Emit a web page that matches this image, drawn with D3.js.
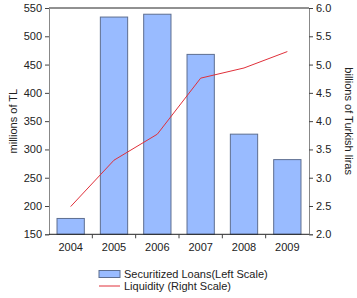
<!DOCTYPE html>
<html><head><meta charset="utf-8">
<script src="https://cdn.jsdelivr.net/npm/d3@7"></script>
<style>body{margin:0;background:#fff;}svg{display:block;font-family:"Liberation Sans",Arial,sans-serif;}</style>
</head><body><svg id="c" width="357" height="298"></svg>
<script>
const years = ["2004","2005","2006","2007","2008","2009"];
const securitizedLoans = [178, 534, 539, 468, 327, 282];
const liquidity = [2.49, 3.31, 3.77, 4.76, 4.94, 5.23];
const leftTicks = [150,200,250,300,350,400,450,500,550];
const rightTicks = [2.0,2.5,3.0,3.5,4.0,4.5,5.0,5.5,6.0];

const svg = d3.select("#c");
const L = 49, R = 309, T = 8, B = 234.3;
const x = d3.scaleBand().domain(years).range([L, R]).paddingInner(0.37).paddingOuter(0.185);
const xb = d3.scaleBand().domain(years).range([L, R]);
const yL = d3.scaleLinear().domain([150, 550]).range([B, T]);
const yR = d3.scaleLinear().domain([2, 6]).range([B, T]);

// bars
svg.append("g").selectAll("rect").data(years).join("rect")
  .attr("x", d => x(d)).attr("width", x.bandwidth())
  .attr("y", (d,i) => yL(securitizedLoans[i])).attr("height", (d,i) => B - yL(securitizedLoans[i]))
  .attr("fill", "#99bbff").attr("stroke", "#5d6e90").attr("stroke-width", 1);

// top border
svg.append("line").attr("x1", L).attr("x2", R).attr("y1", T).attr("y2", T).attr("stroke", "#222");

// left axis
const ga = svg.append("g").attr("transform", `translate(${L},0)`)
  .call(d3.axisLeft(yL).tickValues(leftTicks).tickSize(4).tickPadding(3).tickFormat(d3.format("d")));
ga.select(".domain").attr("stroke", "#888");
ga.selectAll(".tick line").attr("stroke", "#444");
ga.selectAll("text").attr("font-size", 11).attr("fill", "#222").style("font-family", "Liberation Sans, Arial, sans-serif");

// right axis
const gr = svg.append("g").attr("transform", `translate(${R},0)`)
  .call(d3.axisRight(yR).tickValues(rightTicks).tickSize(4).tickPadding(3).tickFormat(d3.format(".1f")));
gr.select(".domain").attr("stroke", "#888");
gr.selectAll(".tick line").attr("stroke", "#444");
gr.selectAll("text").attr("font-size", 11).attr("fill", "#222").style("font-family", "Liberation Sans, Arial, sans-serif");

// bottom axis
const gb = svg.append("g").attr("transform", `translate(0,${B})`)
  .call(d3.axisBottom(x).tickSize(0).tickPadding(9));
gb.select(".domain").remove();
gb.selectAll("text").attr("font-size", 11).attr("fill", "#222").style("font-family", "Liberation Sans, Arial, sans-serif");
svg.append("line").attr("x1", L).attr("x2", R).attr("y1", B).attr("y2", B).attr("stroke", "#222");
svg.append("g").selectAll("line").data(years.slice(1)).join("line")
  .attr("x1", d => xb(d)).attr("x2", d => xb(d)).attr("y1", B).attr("y2", B + 4).attr("stroke", "#444");

// line
const line = d3.line().x((d,i) => xb(years[i]) + xb.bandwidth()/2).y(d => yR(d));
svg.append("path").datum(liquidity).attr("d", line).attr("fill", "none").attr("stroke", "#e0303a").attr("stroke-width", 1);

// titles
svg.append("text").attr("transform", `translate(16.5,${(T+B)/2}) rotate(-90)`).attr("text-anchor", "middle")
  .attr("font-size", 11).attr("fill", "#222").text("millions of TL");
svg.append("text").attr("transform", `translate(345,${(T+B)/2}) rotate(90)`).attr("text-anchor", "middle")
  .attr("font-size", 11).attr("fill", "#222").text("billions of Turkish liras");

// legend
const lg = svg.append("g");
lg.append("rect").attr("x", 99).attr("y", 270.5).attr("width", 21).attr("height", 7)
  .attr("fill", "#99bbff").attr("stroke", "#5d6e90");
lg.append("text").attr("x", 124).attr("y", 278).attr("font-size", 11).attr("fill", "#222").text("Securitized Loans(Left Scale)");
lg.append("line").attr("x1", 99).attr("x2", 120).attr("y1", 286).attr("y2", 286).attr("stroke", "#e0303a");
lg.append("text").attr("x", 124).attr("y", 289.5).attr("font-size", 11).attr("fill", "#222").text("Liquidity (Right Scale)");
</script></body></html>
